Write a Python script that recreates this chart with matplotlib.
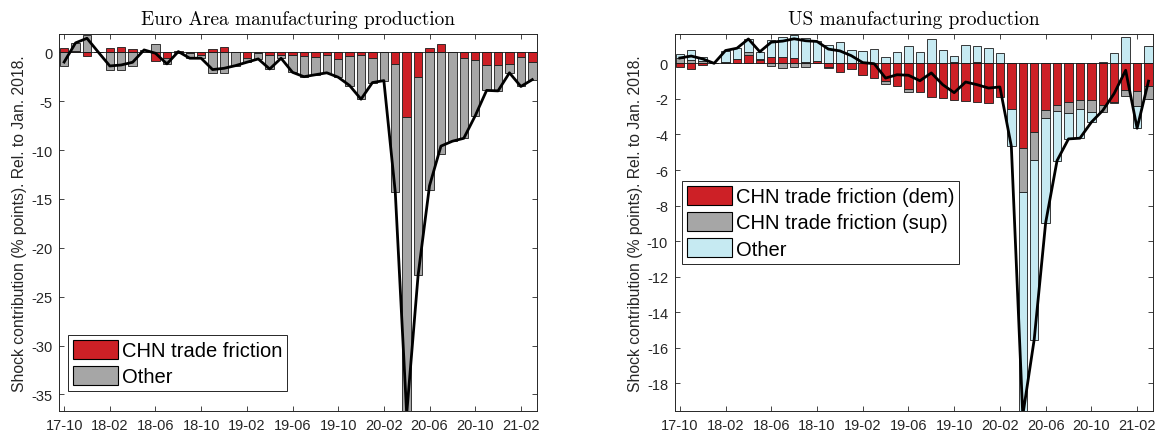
import numpy as np
import matplotlib
matplotlib.use("Agg")
import matplotlib.pyplot as plt
from matplotlib.patches import Patch

# ---------------- data ----------------
tick_labels = ["17-10", "18-02", "18-06", "18-10", "19-02", "19-06",
               "19-10", "20-02", "20-06", "20-10", "21-02"]

# Euro Area (monthly, 17-10 ... 21-03)
ea_chn = [0.45, 0.1, -0.35, 0, 0.45, 0.5, 0.35, 0.05, -0.9, -0.55, 0.15, -0.1,
          -0.25, 0.3, 0.5, 0.0, -0.6, -0.1, -0.3, -0.3, -0.3, -0.4, -0.45, -0.3,
          -0.65, -0.4, -0.25, -0.55, 0.0, -1.15, -6.65, -2.5, 0.45, 0.8, 0.0,
          -0.55, -0.75, -1.3, -1.35, -1.15, -0.45, -0.95]
ea_other = [-1.45, 0.86, 1.78, 0, -1.85, -1.8, -1.37, 0.19, 0.8, -0.64, -0.08,
            -0.51, -0.36, -2.07, -2.14, -1.37, -0.42, -0.58, -1.41, -0.31, -1.75,
            -2.1, -1.85, -1.8, -1.9, -3.0, -4.55, -2.55, -2.9, -13.15, -30.35,
            -20.3, -14.1, -10.4, -9.1, -8.25, -5.75, -2.6, -2.6, -0.95, -3.05, -1.85]
ea_total = [-1.0, 0.96, 1.43, 0, -1.4, -1.3, -1.02, 0.24, -0.1, -1.19, 0.07,
            -0.61, -0.61, -1.77, -1.64, -1.37, -1.02, -0.68, -1.71, -0.61, -2.05,
            -2.5, -2.3, -2.1, -2.55, -3.4, -4.8, -3.1, -2.9, -14.3, -37.0, -22.8,
            -13.65, -9.6, -9.1, -8.8, -6.5, -3.9, -3.95, -2.1, -3.5, -2.8]

# US
us_dem = [-0.2, -0.32, -0.1, 0, 0.1, 0.22, 0.47, 0.18, 0.34, 0.35, 0.28, 0.05,
          0.15, -0.2, -0.5, -0.32, -0.64, -0.82, -0.97, -1.29, -1.44, -1.63,
          -1.91, -1.97, -2.05, -2.1, -2.2, -2.23, -1.91, -2.57, -4.78, -3.84,
          -2.6, -2.34, -2.15, -2.04, -2.04, -2.34, -2.15, -1.48, -1.54, -1.25]
us_sup = [0.3, 0.2, 0.15, 0, 0.0, 0.05, 0.15, 0.05, -0.15, -0.25, -0.2, -0.18,
          0.0, -0.05, 0.0, 0.0, 0.0, 0.0, -0.2, 0.0, -0.19, 0.0, 0.0, 0.0, 0.1,
          0.0, 0.1, 0.0, 0.0, 0.0, -2.43, -1.57, -0.49, -0.32, -0.64, -0.52,
          -0.71, -0.41, -0.1, -0.37, -0.84, -0.75]
us_other = [0.2, 0.53, 0.2, 0, 0.62, 0.58, 0.75, 0.42, 1.0, 1.15, 1.3, 1.4,
            1.08, 1.05, 1.2, 0.75, 0.68, 0.8, 0.34, 0.65, 0.96, 0.65, 1.37, 0.77,
            0.3, 1.05, 0.9, 0.84, 0.58, -2.09, -12.59, -10.12, -5.88, -2.81,
            -1.46, -1.65, -0.56, 0.1, 0.56, 1.46, -1.27, 1.0]
us_total = [0.3, 0.41, 0.25, 0, 0.72, 0.85, 1.37, 0.65, 1.19, 1.25, 1.38, 1.27,
            1.23, 0.8, 0.7, 0.43, 0.04, -0.02, -0.83, -0.64, -0.67, -0.98, -0.54,
            -1.2, -1.65, -1.05, -1.2, -1.39, -1.33, -4.66, -19.8, -15.53, -8.97,
            -5.47, -4.25, -4.21, -3.31, -2.65, -1.69, -0.39, -3.65, -1.0]

RED = "#cd2026"
GRAY = "#a6a6a6"
LBLUE = "#c6eaf2"
TXT = "#262626"

plt.rcParams["font.family"] = ["Liberation Sans", "DejaVu Sans"]

fig = plt.figure(figsize=(11.59, 4.39), dpi=100)
axL = fig.add_axes([0.0512, 0.0615, 0.4122, 0.8588])
axR = fig.add_axes([0.5824, 0.0615, 0.4127, 0.8588])


def stacked(ax, series, colors):
    n = len(series[0])
    x = np.arange(n)
    pos = np.zeros(n)
    neg = np.zeros(n)
    for vals, c in zip(series, colors):
        v = np.asarray(vals, dtype=float)
        bottom = np.where(v >= 0, pos, neg)
        ax.bar(x, v, width=0.74, bottom=bottom, color=c, edgecolor="#1a1a1a",
               linewidth=0.6, zorder=2)
        pos += np.clip(v, 0, None)
        neg += np.clip(v, None, 0)
    return x


def style(ax, yticks, ylim, title):
    n = len(ea_total)
    ax.set_xlim(-0.42, n - 0.58)
    ax.set_ylim(*ylim)
    ax.axhline(0, color="#1a1a1a", lw=0.6, zorder=2.5)
    ax.set_xticks(np.arange(0, n, 4))
    ax.set_xticklabels(tick_labels)
    ax.set_yticks(yticks)
    ax.set_yticklabels([f"{t:g}" for t in yticks])
    ax.tick_params(direction="in", length=3.5, width=0.6, colors=TXT,
                   labelsize=10.5, top=True, right=True, pad=5)
    for s in ax.spines.values():
        s.set_color(TXT)
        s.set_linewidth(0.7)
    ax.set_title(title, fontfamily="cmr10", fontsize=13.9, pad=7, color="k")
    ax.set_ylabel("Shock contribution (% points). Rel. to Jan. 2018.",
                  fontsize=11.3, color=TXT, labelpad=3)


leg_kw = dict(borderaxespad=0, fontsize=14.5, fancybox=False, framealpha=1,
              edgecolor=TXT, handlelength=2.2, handleheight=1.1,
              handletextpad=0.2, labelspacing=0.28, borderpad=0.25)

# Left panel
x = stacked(axL, [ea_chn, ea_other], [RED, GRAY])
axL.plot(x, ea_total, color="k", lw=2.0, zorder=3)
style(axL, [0, -5, -10, -15, -20, -25, -30, -35], (-36.7, 1.87),
      "Euro Area manufacturing production")
hL = [Patch(facecolor=RED, edgecolor="k", lw=0.8),
      Patch(facecolor=GRAY, edgecolor="k", lw=0.8)]
legL = axL.legend(hL, ["CHN trade friction", "Other"], loc="lower left",
                  bbox_to_anchor=(0.0188, 0.052), **leg_kw)
legL.get_frame().set_linewidth(0.7)

# Right panel
x = stacked(axR, [us_dem, us_sup, us_other], [RED, GRAY, LBLUE])
axR.plot(x, us_total, color="k", lw=2.0, zorder=3)
style(axR, [0, -2, -4, -6, -8, -10, -12, -14, -16, -18], (-19.55, 1.65),
      "US manufacturing production")
hR = [Patch(facecolor=RED, edgecolor="k", lw=0.8),
      Patch(facecolor=GRAY, edgecolor="k", lw=0.8),
      Patch(facecolor=LBLUE, edgecolor="k", lw=0.8)]
legR = axR.legend(hR, ["CHN trade friction (dem)", "CHN trade friction (sup)", "Other"],
                  loc="upper left", bbox_to_anchor=(0.0153, 0.611), **leg_kw)
legR.get_frame().set_linewidth(0.7)

fig.savefig("out.png", dpi=100)
